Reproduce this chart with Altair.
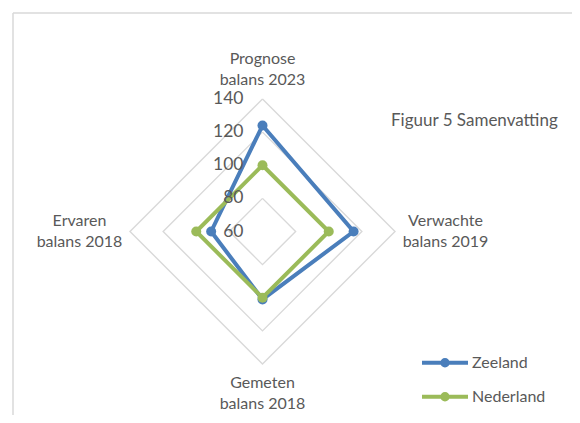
import altair as alt
import pandas as pd

# ---- data ----
categories = ["Prognose\nbalans 2023", "Verwachte\nbalans 2019", "Gemeten\nbalans 2018", "Ervaren\nbalans 2018"]
series_names = ["Zeeland", "Nederland"]
zeeland = [124, 115, 101, 91]
nederland = [100, 100, 100, 100]
tick_values = [60, 80, 100, 120, 140]
grid_levels = [80, 100, 120, 140]
title_text = "Figuur 5 Samenvatting"
colors = ["#4a7ebb", "#9bbb59"]

# ---- layout constants ----
W, H = 564, 407
CX, CY = 254.5, 223.5          # radar centre inside the view (px)
PX = 132.5 / 80                 # px per value unit
R0 = 60                         # value at centre
xdom = [-CX / PX, (W - CX) / PX]
ydom = [-(H - CY) / PX, CY / PX]
TXT = "#595959"
FONT = "Lato"

series_rows = []
for name, vals in zip(series_names, [zeeland, nederland]):
    for i in range(len(categories) + 1):
        series_rows.append({"series": name, "idx": i, "value": vals[i % len(vals)]})
series_df = pd.DataFrame(series_rows)

grid_rows = []
for lv in grid_levels:
    for i in range(len(categories) + 1):
        grid_rows.append({"level": lv, "idx": i, "value": lv})
grid_df = pd.DataFrame(grid_rows)

tick_df = pd.DataFrame({"value": tick_values, "idx": [0] * len(tick_values)})
cat_df = pd.DataFrame({"label": categories, "idx": list(range(len(categories)))})

xs = alt.Scale(domain=xdom, nice=False, zero=False)
ys = alt.Scale(domain=ydom, nice=False, zero=False)


def polar(chart, rexpr):
    return chart.transform_calculate(
        r=rexpr,
        ang="datum.idx * PI / 2",
    ).transform_calculate(
        px="datum.r * sin(datum.ang)",
        py="datum.r * cos(datum.ang)",
    )


X = alt.X("px:Q", scale=xs, axis=None)
Y = alt.Y("py:Q", scale=ys, axis=None)

grid = polar(alt.Chart(grid_df), f"datum.value - {R0}").mark_line(
    color="#d9d9d9", strokeWidth=1.4
).encode(x=X, y=Y, detail="level:N", order="idx:Q")

color = alt.Color(
    "series:N",
    scale=alt.Scale(domain=series_names, range=colors),
    legend=alt.Legend(
        orient="none", legendX=412, legendY=338, title=None,
        symbolType="M-1,0H1M-0.12,0A0.12,0.12 0 1,1 0.12,0A0.12,0.12 0 1,1 -0.12,0",
        symbolSize=2116, symbolStrokeWidth=4,
        labelFont=FONT, labelFontSize=16, labelColor=TXT, labelOffset=2,
        clipHeight=33.5, rowPadding=0, padding=0,
    ),
)

lines = polar(alt.Chart(series_df), f"datum.value - {R0}").mark_line(
    strokeWidth=4
).encode(x=X, y=Y, color=color, order="idx:Q")

points = polar(alt.Chart(series_df), f"datum.value - {R0}").transform_filter(
    "datum.idx < 4"
).mark_point(filled=True, size=100, opacity=1).encode(x=X, y=Y, color=color)

ticks = polar(alt.Chart(tick_df), f"datum.value - {R0}").mark_text(
    align="right", baseline="middle", dx=-19, font=FONT, fontSize=17.5, color=TXT
).encode(x=X, y=Y, text="value:Q")

cats = polar(
    alt.Chart(cat_df), "datum.idx % 2 == 0 ? 98 : 110.5"
).transform_calculate(lines="split(datum.label, '\\n')").mark_text(
    align="center", baseline="middle", dy=-10.5, font=FONT, fontSize=16, color=TXT, lineHeight=21
).encode(x=X, y=Y, text="lines:N")

title = alt.Chart(pd.DataFrame({"t": [title_text]})).mark_text(
    align="left", baseline="middle", font=FONT, fontSize=17, color=TXT
).encode(x=alt.value(383), y=alt.value(113), text="t:N")

frame_top = alt.Chart(pd.DataFrame({"a": [0]})).mark_rule(color="#d9d9d9", strokeWidth=1.5).encode(
    x=alt.value(5), x2=alt.value(W + 10), y=alt.value(5)
)
frame_left = alt.Chart(pd.DataFrame({"a": [0]})).mark_rule(color="#d9d9d9", strokeWidth=1.5).encode(
    x=alt.value(5), y=alt.value(5), y2=alt.value(H + 10)
)

chart = alt.layer(frame_top, frame_left, grid, lines, points, ticks, cats, title).properties(
    width=W, height=H, padding=0, autosize=alt.AutoSizeParams(type="none"),
    background="white",
).configure_view(stroke=None)

chart.save("out.html", embed_options={"renderer": "svg", "actions": False})
